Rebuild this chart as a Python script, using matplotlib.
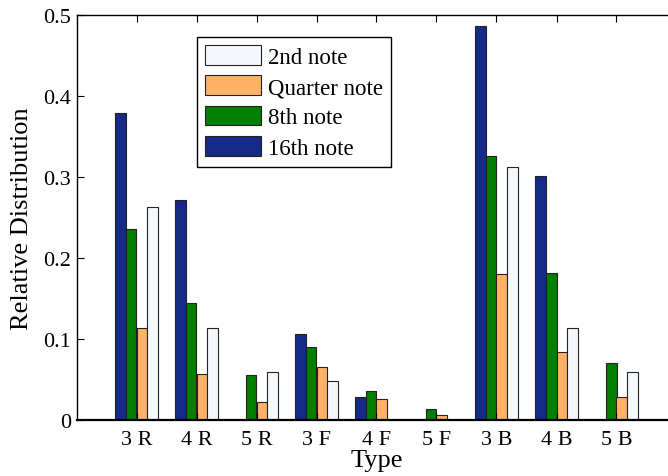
import numpy as np
import matplotlib
matplotlib.use("Agg")
import matplotlib.pyplot as plt

plt.rcParams["font.family"] = ["Liberation Serif", "DejaVu Serif"]

types = ["3 R", "4 R", "5 R", "3 F", "4 F", "5 F", "3 B", "4 B", "5 B"]
sixteenth = [0.379, 0.272, 0.0, 0.106, 0.028, 0.0, 0.486, 0.301, 0.0]
eighth = [0.236, 0.145, 0.055, 0.090, 0.036, 0.014, 0.326, 0.182, 0.070]
quarter = [0.113, 0.057, 0.022, 0.066, 0.026, 0.006, 0.180, 0.084, 0.029]
second = [0.263, 0.114, 0.059, 0.048, 0.0, 0.0, 0.312, 0.114, 0.059]

colors = {"16th note": "#162a87", "8th note": "#007f00",
          "Quarter note": "#ffb266", "2nd note": "#f4f7fc"}

fig = plt.figure(figsize=(6.68, 4.77), dpi=100)
ax = fig.add_axes([76.5 / 668, 56 / 477, 600 / 668, 405 / 477])

x = np.arange(1, len(types) + 1)
w = 0.183
series = [("16th note", sixteenth), ("8th note", eighth),
          ("Quarter note", quarter), ("2nd note", second)]
handles = {}
for i, (name, vals) in enumerate(series):
    h = ax.bar(x + (i - 1.5) * w, vals, width=w, color=colors[name],
               edgecolor="#222222", linewidth=0.8, label=name)
    handles[name] = h

ax.set_xlim(0, 10)
ax.set_ylim(0, 0.5)
ax.set_xticks(x)
ax.set_xticklabels(types)
ax.set_yticks([0, 0.1, 0.2, 0.3, 0.4, 0.5])
ax.set_yticklabels(["0", "0.1", "0.2", "0.3", "0.4", "0.5"])
ax.tick_params(direction="in", length=5, width=0.8, labelsize=16,
               top=True, right=True)
ax.tick_params(axis="x", pad=7)
ax.tick_params(axis="y", pad=4)
for s in ax.spines.values():
    s.set_linewidth(1.0)
ax.spines["bottom"].set_linewidth(1.6)

ax.set_xlabel("Type", fontsize=19, labelpad=0)
ax.set_ylabel("Relative Distribution", fontsize=19, labelpad=7)

order = ["2nd note", "Quarter note", "8th note", "16th note"]
leg = ax.legend([handles[n] for n in order], order, loc="upper left",
                bbox_to_anchor=((197 - 76.5) / 600, (421 - 38) / 405),
                fontsize=16.5, frameon=True, fancybox=False,
                edgecolor="black", framealpha=1, handlelength=2.45,
                handleheight=0.95, labelspacing=0.33, borderpad=0.35,
                handletextpad=0.3, borderaxespad=0)
leg.get_frame().set_linewidth(1.0)

fig.savefig("out.png", dpi=100)
